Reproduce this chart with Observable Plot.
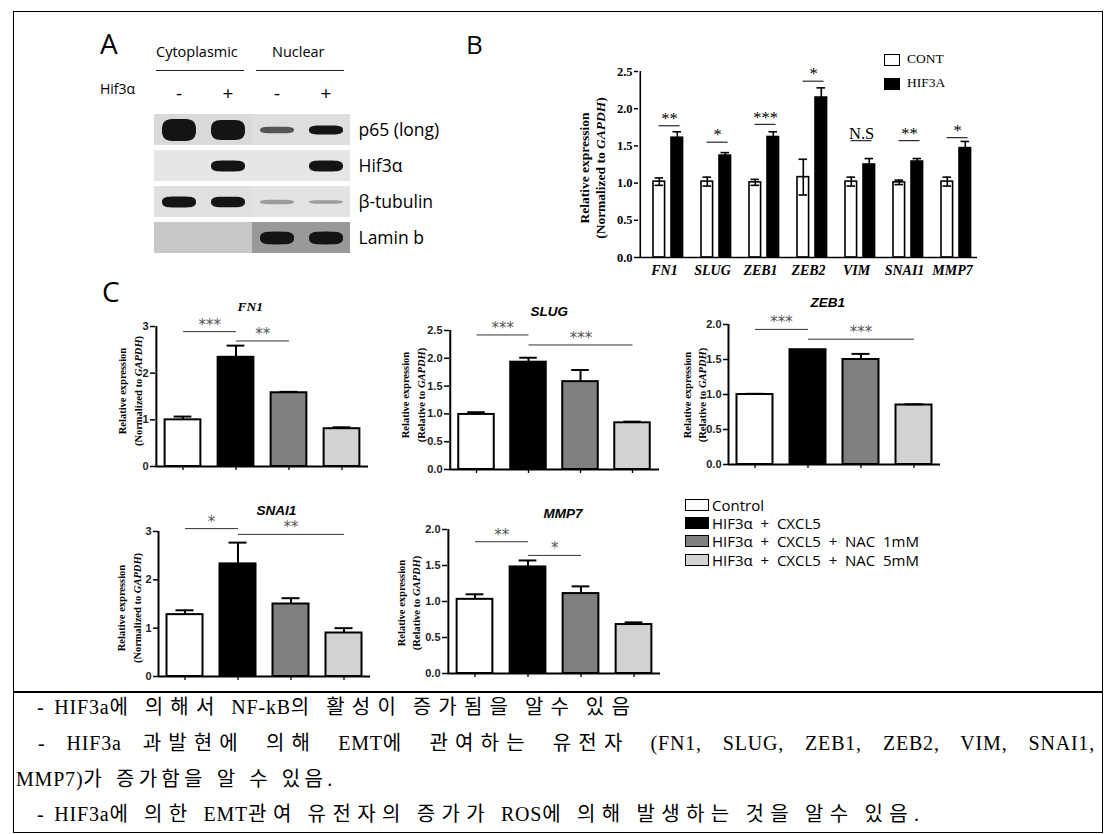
<!DOCTYPE html>
<html><head><meta charset="utf-8">
<script src="https://cdn.jsdelivr.net/npm/d3@7"></script>
<script src="https://cdn.jsdelivr.net/npm/@observablehq/plot@0.6"></script>
<style>
body{margin:0;background:#fff;}
#page{position:relative;width:1110px;height:834px;overflow:hidden;background:#fff;font-family:"Open Sans",sans-serif;color:#000;}
.abs{position:absolute;white-space:nowrap;}
.rot{position:absolute;transform:translate(-50%,-50%) rotate(-90deg);white-space:nowrap;text-align:center;font-family:"Liberation Serif",serif;font-weight:bold;}
.plotwrap{position:absolute;}
.plotwrap svg{overflow:visible;}
</style></head>
<body><div id="page"></div>
<script>
// ================= DATA =================
// Panel A (western blot): relative band signal per lane
const lanes = ["cyt-", "cyt+", "nuc-", "nuc+"];
const laneSigns = ["-", "+", "-", "+"];
const proteins = ["p65 (long)", "Hif3α", "β-tubulin", "Lamin b"];
const p65Band = [1.0, 0.92, 0.3, 0.42];
const hif3Band = [0, 0.5, 0, 0.5];
const tubulinBand = [0.5, 0.48, 0.2, 0.16];
const laminBand = [0, 0, 0.58, 0.58];
const p65Bg = [0.15, 0.15, 0.13, 0.13];
const hif3Bg = [0.1, 0.1, 0.1, 0.1];
const tubulinBg = [0.12, 0.12, 0.11, 0.11];
const laminBg = [0.22, 0.22, 0.4, 0.4];

// Panel B
const genes = ["FN1", "SLUG", "ZEB1", "ZEB2", "VIM", "SNAI1", "MMP7"];
const contMean = [1.02, 1.02, 1.01, 1.08, 1.02, 1.01, 1.02];
const contErr = [0.05, 0.06, 0.04, 0.24, 0.06, 0.03, 0.06];
const hifMean = [1.61, 1.37, 1.62, 2.15, 1.25, 1.29, 1.47];
const hifErr = [0.08, 0.04, 0.07, 0.13, 0.08, 0.04, 0.09];
const bSigLabel = ["**", "*", "***", "*", "N.S", "**", "*"];
const bSigY = [1.77, 1.55, 1.79, 2.37, 1.57, 1.57, 1.61];
const bSeries = ["CONT", "HIF3A"];

// Panel C
const groups = ["Control", "HIF3α + CXCL5", "HIF3α + CXCL5 + NAC 1mM", "HIF3α + CXCL5 + NAC 5mM"];
const groupLabels = ["Control", "HIF3α  +  CXCL5", "HIF3α  +  CXCL5  +  NAC  1mM", "HIF3α  +  CXCL5  +  NAC  5mM"];
const groupFills = ["#ffffff", "#000000", "#808080", "#d2d2d2"];
const fn1Mean = [1.0, 2.34, 1.58, 0.81];
const fn1Err = [0.07, 0.25, 0.02, 0.03];
const fn1Sig = [{from: 0, to: 1, y: 2.89, label: "***"}, {from: 1, to: 2, y: 2.69, label: "**"}];
const slugMean = [0.99, 1.93, 1.58, 0.84];
const slugErr = [0.04, 0.08, 0.21, 0.02];
const slugSig = [{from: 0, to: 1, y: 2.42, label: "***"}, {from: 1, to: 3, y: 2.24, label: "***"}];
const zeb1Mean = [1.0, 1.64, 1.5, 0.85];
const zeb1Err = [0.01, 0, 0.08, 0.01];
const zeb1Sig = [{from: 0, to: 1, y: 1.93, label: "***"}, {from: 1, to: 3, y: 1.79, label: "***"}];
const snai1Mean = [1.28, 2.33, 1.5, 0.9];
const snai1Err = [0.09, 0.44, 0.12, 0.1];
const snai1Sig = [{from: 0, to: 1, y: 3.06, label: "*"}, {from: 1, to: 3, y: 2.94, label: "**"}];
const mmp7Mean = [1.03, 1.48, 1.11, 0.68];
const mmp7Err = [0.07, 0.09, 0.1, 0.03];
const mmp7Sig = [{from: 0, to: 1, y: 1.83, label: "**"}, {from: 1, to: 2, y: 1.64, label: "*"}];

// Text box
const notes = [
  "- HIF3a에 의해서 NF-kB의 활성이 증가됨을 알수 있음",
  "- HIF3a 과발현에 의해 EMT에 관여하는 유전자 (FN1, SLUG, ZEB1, ZEB2, VIM, SNAI1,",
  "MMP7)가 증가함을 알 수 있음.",
  "- HIF3a에 의한 EMT관여 유전자의 증가가 ROS에 의해 발생하는 것을 알수 있음."
];

// ================= HELPERS =================
const page = document.getElementById("page");
function put(el, left, top) {
  const d = document.createElement("div");
  d.className = "plotwrap";
  d.style.left = left + "px"; d.style.top = top + "px";
  d.appendChild(el); page.appendChild(d);
}
function txt(html, left, top, css) {
  const d = document.createElement("div");
  d.className = "abs"; d.innerHTML = html;
  d.style.left = left + "px"; d.style.top = top + "px";
  Object.assign(d.style, css || {});
  page.appendChild(d); return d;
}
function box(left, top, w, h, css) {
  const d = document.createElement("div");
  d.style.position = "absolute";
  d.style.left = left + "px"; d.style.top = top + "px";
  d.style.width = w + "px"; d.style.height = h + "px";
  d.style.boxSizing = "border-box";
  Object.assign(d.style, css || {});
  page.appendChild(d); return d;
}
function rotLabel(cx, cy, html, fs, lh) {
  const d = document.createElement("div");
  d.className = "rot"; d.innerHTML = html;
  d.style.left = cx + "px"; d.style.top = cy + "px";
  d.style.fontSize = fs + "px"; d.style.lineHeight = lh + "px";
  page.appendChild(d);
}

// ================= FRAME =================
box(13, 11, 1090, 822, {border: "1.5px solid #000"});
box(13, 691, 1090, 1.5, {background: "#000"});

// ================= PANEL A =================
txt("A", 100, 24, {fontSize: "28px", fontFamily: "Open Sans"});
txt("B", 466, 26, {fontSize: "26px", fontFamily: "Open Sans"});
txt("C", 102, 272, {fontSize: "28px", fontFamily: "Open Sans"});
txt("Cytoplasmic", 156, 42, {fontSize: "14.5px"});
txt("Nuclear", 272, 42, {fontSize: "14.5px"});
box(156, 70, 88, 1.3, {background: "#222"});
box(256, 70, 88, 1.3, {background: "#222"});
txt("Hif3α", 100, 79, {fontSize: "14px"});

const bandRows = [p65Band, hif3Band, tubulinBand, laminBand];
const bgRows = [p65Bg, hif3Bg, tubulinBg, laminBg];
const blotBands = proteins.flatMap((p, r) => lanes.map((l, i) => ({protein: p, lane: l, v: bandRows[r][i]})));
const blotBg = proteins.flatMap((p, r) => lanes.map((l, i) => ({protein: p, lane: l, shade: bgRows[r][i]})));
const bandShape = {
  draw(ctx, size) {
    const hh = Math.sqrt(size / Math.PI), hw = 17, n = 48;
    for (let k = 0; k <= n; k++) {
      const t = 2 * Math.PI * k / n, c = Math.cos(t), s = Math.sin(t);
      const x = hw * Math.sign(c) * Math.pow(Math.abs(c), 0.45);
      const y = hh * Math.sign(s) * Math.pow(Math.abs(s), 0.8);
      if (k === 0) ctx.moveTo(x, y); else ctx.lineTo(x, y);
    }
    ctx.closePath();
  }
};
const bandDot = (filter, fill) => Plot.dot(blotBands.filter(filter), {x: "lane", y: "protein", r: "v", symbol: bandShape, fill, stroke: null});
const blot = Plot.plot({
  width: 300, height: 186, marginLeft: 4, marginRight: 100, marginTop: 43, marginBottom: 3,
  x: {domain: lanes, padding: 0},
  y: {domain: proteins, paddingInner: 0.14, paddingOuter: 0},
  color: {type: "linear", domain: [0, 1], range: ["#ffffff", "#000000"]},
  r: {type: "linear", domain: [0, 1], range: [0, 11]},
  style: {background: "transparent", overflow: "visible"},
  marks: [
    Plot.cell(blotBg, {x: "lane", y: "protein", fill: "shade"}),
    bandDot(d => d.v >= 0.4, "#141414"),
    bandDot(d => d.v >= 0.25 && d.v < 0.4, "#555555"),
    bandDot(d => d.v > 0 && d.v < 0.25, "#9c9c9c"),
    Plot.axisX({anchor: "top", tickSize: 0, tickPadding: 14, tickFormat: d => laneSigns[lanes.indexOf(d)], fontSize: 19, fontFamily: "Open Sans", label: null}),
    Plot.axisY({anchor: "right", tickSize: 0, tickPadding: 8, fontSize: 17.5, fontFamily: "Open Sans", label: null})
  ]
});
put(blot, 150, 70);

// ================= PANEL B =================
const bData = genes.map((g, i) => ({gene: g, cont: contMean[i], contErr: contErr[i], hif: hifMean[i], hifErr: hifErr[i], sig: bSigLabel[i], sigY: bSigY[i]}));
const BW = 339 / 7;
const serif = "Liberation Serif";
const chartB = Plot.plot({
  width: 420, height: 250, marginLeft: 78, marginRight: 3, marginTop: 31, marginBottom: 33,
  x: {domain: genes, padding: 0},
  y: {domain: [0, 2.5]},
  style: {background: "transparent", overflow: "visible"},
  marks: [
    Plot.barY(bData, {x: "gene", y: "cont", fill: "#fff", stroke: "#000", strokeWidth: 1.6, insetLeft: 13, insetRight: BW - 25}),
    Plot.barY(bData, {x: "gene", y: "hif", fill: "#000", stroke: "#000", strokeWidth: 1.6, insetLeft: 31, insetRight: BW - 43}),
    Plot.ruleX(bData, {x: "gene", y1: d => d.cont - d.contErr, y2: d => d.cont + d.contErr, dx: 19 - BW / 2, strokeWidth: 1.6}),
    Plot.tickY(bData, {x: "gene", y: d => d.cont + d.contErr, insetLeft: 14.5, insetRight: BW - 23.5, strokeWidth: 1.6}),
    Plot.tickY(bData, {x: "gene", y: d => d.cont - d.contErr, insetLeft: 14.5, insetRight: BW - 23.5, strokeWidth: 1.6}),
    Plot.ruleX(bData, {x: "gene", y1: "hif", y2: d => d.hif + d.hifErr, dx: 37 - BW / 2, strokeWidth: 1.6}),
    Plot.tickY(bData, {x: "gene", y: d => d.hif + d.hifErr, insetLeft: 32.5, insetRight: BW - 41.5, strokeWidth: 1.6}),
    Plot.tickY(bData, {x: "gene", y: "sigY", insetLeft: 18.5, insetRight: BW - 40, strokeWidth: 1}),
    Plot.text(bData, {x: "gene", y: "sigY", text: "sig", dx: 29.3 - BW / 2, dy: -7, fontSize: 16.5, fontFamily: serif}),
    Plot.ruleX([genes[0]], {x: d => d, dx: -BW / 2, y1: 0, y2: 2.5, strokeWidth: 1.6}),
    Plot.ruleY([0], {strokeWidth: 1.6}),
    Plot.axisY({ticks: [0, 0.5, 1, 1.5, 2, 2.5], tickFormat: d3.format(".1f"), tickSize: 4, tickPadding: 2, strokeWidth: 1.5, fontSize: 12.5, fontWeight: "bold", fontFamily: serif, label: null}),
    Plot.axisX({tickSize: 0, tickPadding: 8, fontSize: 14, fontWeight: "bold", fontStyle: "italic", fontFamily: serif, label: null})
  ]
});
put(chartB, 560, 40);
rotLabel(593, 168, "Relative expression<br>(Normalized to <i>GAPDH</i>)", 13.5, 16);
// legend B
box(884, 54, 16, 12, {border: "1.6px solid #000", background: "#fff"});
box(884, 78, 16, 12, {border: "1.6px solid #000", background: "#000"});
txt(bSeries[0], 907, 51, {fontSize: "13.5px", fontFamily: serif});
txt(bSeries[1], 907, 75, {fontSize: "13.5px", fontFamily: serif});

// ================= PANEL C =================
function cChart(cfg) {
  const {means, errs, sigs, yMax, yTicks, fmt, axisX, y0, yTop, xEnd, title, titleFont, titleX, titleY} = cfg;
  const ML = 34, MR = 6, MT = 56, MB = 12;
  const width = xEnd - axisX + ML + MR;
  const height = y0 - yTop + MT + MB;
  const bw = (xEnd - axisX) / 4;
  const data = groups.map((g, i) => ({g, m: means[i], e: errs[i]}));
  const withErr = data.filter(d => d.e > 0);
  const svg = Plot.plot({
    width, height, marginLeft: ML, marginRight: MR, marginTop: MT, marginBottom: MB,
    x: {domain: groups, padding: 0},
    y: {domain: [0, yMax]},
    color: {domain: groups, range: groupFills},
    style: {background: "transparent", overflow: "visible"},
    marks: [
      Plot.barY(data, {x: "g", y: "m", fill: "g", stroke: "#000", strokeWidth: 2, insetLeft: (bw - 36) / 2, insetRight: (bw - 36) / 2}),
      Plot.ruleX(withErr, {x: "g", y1: "m", y2: d => d.m + d.e, strokeWidth: 2}),
      Plot.tickY(withErr, {x: "g", y: d => d.m + d.e, strokeWidth: 2, insetLeft: (bw - 18) / 2, insetRight: (bw - 18) / 2}),
      Plot.link(sigs, {x1: d => groups[d.from], x2: d => groups[d.to], y1: "y", y2: "y", stroke: "#333", strokeWidth: 1}),
      ...sigs.map(s => Plot.text([s], {x: d => groups[d.from], y: "y", text: "label", dx: (s.to - s.from) * bw / 2, dy: -2, lineAnchor: "bottom", fill: "#555", fontSize: 15, fontFamily: "DejaVu Sans"})),
      Plot.ruleX([groups[0]], {x: d => d, dx: -bw / 2, y1: 0, y2: yMax, strokeWidth: 2}),
      Plot.ruleY([0], {strokeWidth: 2}),
      Plot.axisY({ticks: yTicks, tickFormat: fmt, tickSize: 5, tickPadding: 2, strokeWidth: 1.5, fontSize: 11, fontWeight: "bold", fontFamily: "Liberation Sans", fill: "#222", label: null}),
      Plot.axisX({tickFormat: () => "", tickSize: 4, strokeWidth: 1.3, label: null}),
      Plot.text([title], {frameAnchor: "top-left", dx: titleX - axisX, dy: titleY - yTop, fontStyle: "italic", fontWeight: "bold", fontSize: 13.5, fontFamily: titleFont})
    ]
  });
  put(svg, axisX - ML, yTop - MT);
}
const t1 = [0, 1, 2, 3];
const tHalf25 = [0, 0.5, 1, 1.5, 2, 2.5];
const tHalf2 = [0, 0.5, 1, 1.5, 2];
const f1 = d3.format(".1f");
cChart({means: fn1Mean, errs: fn1Err, sigs: fn1Sig, yMax: 3, yTicks: t1, fmt: d => d, axisX: 155, y0: 466, yTop: 326, xEnd: 368, title: "FN1", titleFont: serif, titleX: 237, titleY: 301});
cChart({means: slugMean, errs: slugErr, sigs: slugSig, yMax: 2.5, yTicks: tHalf25, fmt: f1, axisX: 449, y0: 469, yTop: 330, xEnd: 659, title: "SLUG", titleFont: "Liberation Sans", titleX: 530, titleY: 306});
cChart({means: zeb1Mean, errs: zeb1Err, sigs: zeb1Sig, yMax: 2, yTicks: tHalf2, fmt: f1, axisX: 728, y0: 464, yTop: 324, xEnd: 940, title: "ZEB1", titleFont: "Liberation Sans", titleX: 810, titleY: 297});
cChart({means: snai1Mean, errs: snai1Err, sigs: snai1Sig, yMax: 3, yTicks: t1, fmt: d => d, axisX: 158, y0: 676, yTop: 531, xEnd: 370, title: "SNAI1", titleFont: "Liberation Sans", titleX: 256, titleY: 505});
cChart({means: mmp7Mean, errs: mmp7Err, sigs: mmp7Sig, yMax: 2, yTicks: tHalf2, fmt: f1, axisX: 447, y0: 673, yTop: 529, xEnd: 660, title: "MMP7", titleFont: "Liberation Sans", titleX: 543, titleY: 508});
rotLabel(130.5, 391, "Relative expression<br>(Normalized to <i>GAPDH</i>)", 10.5, 16);
rotLabel(413.5, 395, "Relative expression<br>(Relative to <i>GAPDH</i>)", 10.5, 16);
rotLabel(694.5, 395, "Relative expression<br>(Relative to <i>GAPDH</i>)", 10.5, 15);
rotLabel(130, 608, "Relative expression<br>(Normalized to <i>GAPDH</i>)", 10.5, 16);
rotLabel(409, 603, "Relative expression<br>(Relative to <i>GAPDH</i>)", 10.5, 15);
// legend C
const legendY = [505, 523, 541, 560];
groups.forEach((g, i) => {
  box(685, legendY[i] - 6, 24, 12, {border: "1.3px solid #000", background: groupFills[i]});
  txt(groupLabels[i], 712, legendY[i] - 11, {fontSize: "15px", whiteSpace: "pre", lineHeight: "22px"});
});

// ================= TEXT BOX =================
const NS = "http://www.w3.org/2000/svg";
const tsvg = document.createElementNS(NS, "svg");
tsvg.setAttribute("width", 1110); tsvg.setAttribute("height", 834);
tsvg.style.position = "absolute"; tsvg.style.left = "0px"; tsvg.style.top = "0px";
page.appendChild(tsvg);
const noteX = [37, 38, 16, 37];
const noteY = [714, 750, 786, 821];
const noteW = [600, 1057, 317, 883];
const hangul = /[\uAC00-\uD7A3]/;
function buildLine(s, i) {
  const t = document.createElementNS(NS, "text");
  t.setAttribute("x", noteX[i]); t.setAttribute("y", noteY[i]);
  t.setAttribute("font-family", "Liberation Serif, Noto Sans CJK KR, serif");
  t.setAttribute("font-size", "20");
  t.style.wordSpacing = "4px";
  t.style.letterSpacing = "0.8px";
  const runs = [];
  for (const ch of s) {
    const k = hangul.test(ch);
    if (runs.length && runs[runs.length - 1].k === k) runs[runs.length - 1].s += ch;
    else runs.push({k, s: ch});
  }
  runs.forEach(r => {
    const sp = document.createElementNS(NS, "tspan");
    sp.textContent = r.s;
    if (r.k) sp.setAttribute("class", "hg");
    t.appendChild(sp);
  });
  tsvg.appendChild(t);
  return t;
}
const lines = notes.map(buildLine);
const hgCount = notes.map(s => [...s].filter(c => hangul.test(c)).length);
const spaceCount = notes.map(s => (s.match(/ /g) || []).length);
const lsUsed = [];
[0, 2, 3].forEach(i => {
  const natural = lines[i].getComputedTextLength();
  const ls = 0.8 + Math.max(0, (noteW[i] - natural) / hgCount[i]);
  lines[i].querySelectorAll(".hg").forEach(sp => sp.style.letterSpacing = ls + "px");
  lsUsed.push(ls);
});
{
  const ls = lsUsed[0];
  lines[1].querySelectorAll(".hg").forEach(sp => sp.style.letterSpacing = ls + "px");
  const natural = lines[1].getComputedTextLength();
  const ws = 4 + (noteW[1] - natural) / spaceCount[1];
  lines[1].style.wordSpacing = ws + "px";
}
</script>
</body></html>
